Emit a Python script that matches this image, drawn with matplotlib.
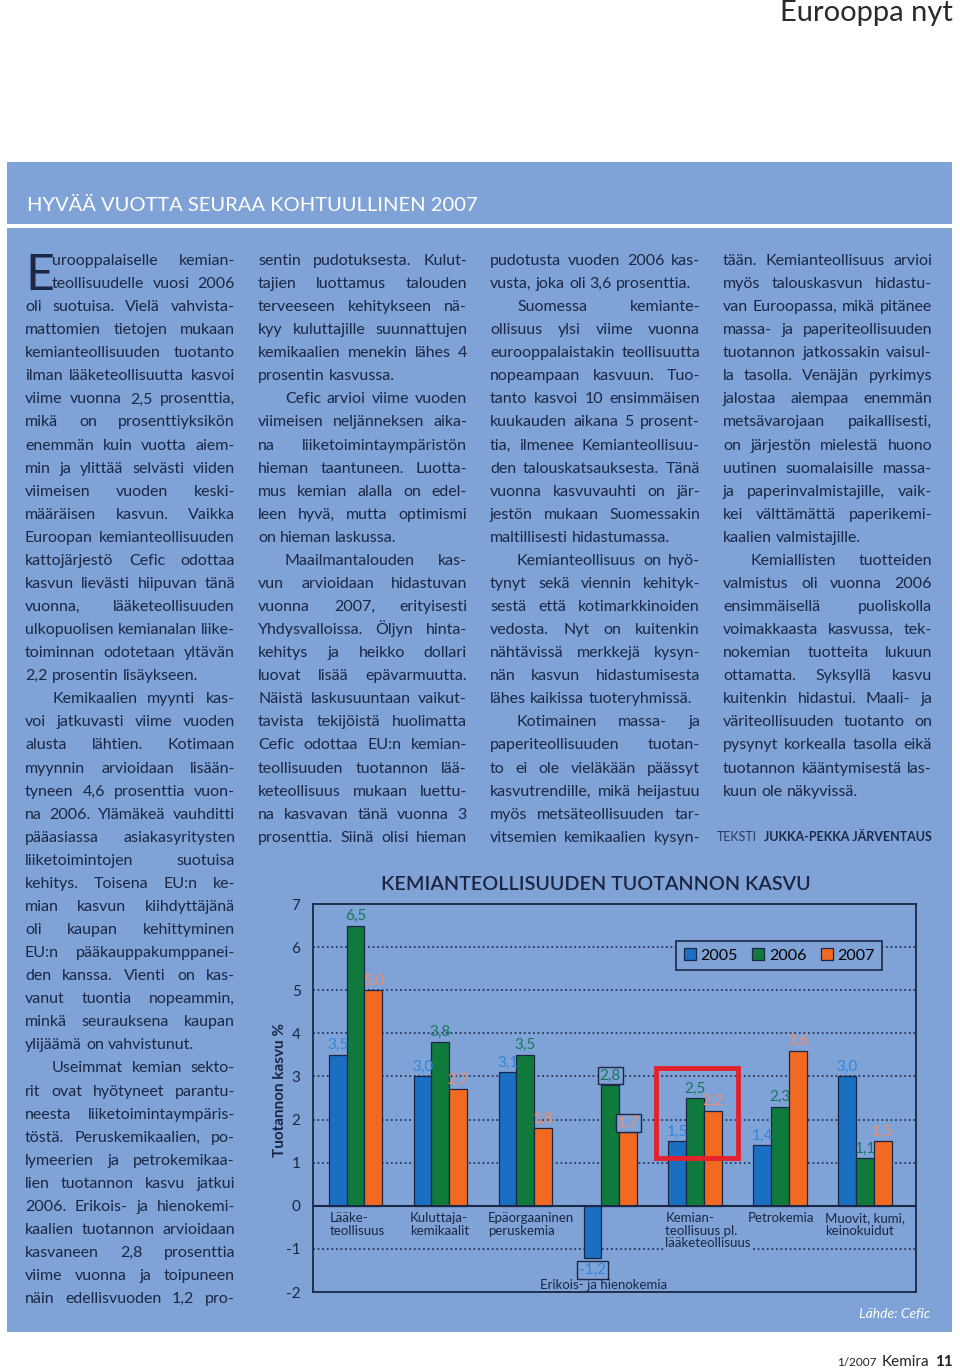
import matplotlib
matplotlib.use("Agg")
import matplotlib.pyplot as plt
from matplotlib.patches import Rectangle
import numpy as np

# chart data
categories = ["Lääke-\nteollisuus", "Kuluttaja-\nkemikaalit", "Epäorgaaninen\nperuskemia",
              "Erikois- ja hienokemia", "Kemian-\nteollisuus pl.\nlääketeollisuus",
              "Petrokemia", "Muovit, kumi,\nkeinokuidut"]
years = ["2005", "2006", "2007"]
kasvu_2005 = [3.5, 3.0, 3.1, -1.2, 1.5, 1.4, 3.0]
kasvu_2006 = [6.5, 3.8, 3.5, 2.8, 2.5, 2.3, 1.1]
kasvu_2007 = [5.0, 2.7, 1.8, 1.7, 2.2, 3.6, 1.5]
y_ticks = list(range(-2, 8))
chart_title = "KEMIANTEOLLISUUDEN TUOTANNON KASVU"
y_label = "Tuotannon kasvu %"
source = "Lähde: Cefic"
highlight = 4  # Kemianteollisuus pl. lääketeollisuus

# page text, columns -> paragraphs -> lines
col1 = [
    ["urooppalaiselle kemian-", "teollisuudelle vuosi 2006", "oli suotuisa. Vielä vahvista-",
     "mattomien tietojen mukaan", "kemianteollisuuden tuotanto", "ilman lääketeollisuutta kasvoi",
     "viime vuonna 2,5 prosenttia,", "mikä on prosenttiyksikön", "enemmän kuin vuotta aiem-",
     "min ja ylittää selvästi viiden", "viimeisen vuoden keski-", "määräisen kasvun. Vaikka",
     "Euroopan kemianteollisuuden", "kattojärjestö Cefic odottaa", "kasvun lievästi hiipuvan tänä",
     "vuonna, lääketeollisuuden", "ulkopuolisen kemianalan liike-", "toiminnan odotetaan yltävän",
     "2,2 prosentin lisäykseen."],
    ["Kemikaalien myynti kas-", "voi jatkuvasti viime vuoden", "alusta lähtien. Kotimaan",
     "myynnin arvioidaan lisään-", "tyneen 4,6 prosenttia vuon-", "na 2006. Ylämäkeä vauhditti",
     "pääasiassa asiakasyritysten", "liiketoimintojen suotuisa", "kehitys. Toisena EU:n ke-",
     "mian kasvun kiihdyttäjänä", "oli kaupan kehittyminen", "EU:n pääkauppakumppanei-",
     "den kanssa. Vienti on kas-", "vanut tuontia nopeammin,", "minkä seurauksena kaupan",
     "ylijäämä on vahvistunut."],
    ["Useimmat kemian sekto-", "rit ovat hyötyneet parantu-", "neesta liiketoimintaympäris-",
     "töstä. Peruskemikaalien, po-", "lymeerien ja petrokemikaa-", "lien tuotannon kasvu jatkui",
     "2006. Erikois- ja hienokemi-", "kaalien tuotannon arvioidaan", "kasvaneen 2,8 prosenttia",
     "viime vuonna ja toipuneen", "näin edellisvuoden 1,2 pro-"],
]
col2 = [
    ["sentin pudotuksesta. Kulut-", "tajien luottamus talouden", "terveeseen kehitykseen nä-",
     "kyy kuluttajille suunnattujen", "kemikaalien menekin lähes 4", "prosentin kasvussa."],
    ["Cefic arvioi viime vuoden", "viimeisen neljänneksen aika-", "na liiketoimintaympäristön",
     "hieman taantuneen. Luotta-", "mus kemian alalla on edel-", "leen hyvä, mutta optimismi",
     "on hieman laskussa."],
    ["Maailmantalouden kas-", "vun arvioidaan hidastuvan", "vuonna 2007, erityisesti",
     "Yhdysvalloissa. Öljyn hinta-", "kehitys ja heikko dollari", "luovat lisää epävarmuutta.",
     "Näistä laskusuuntaan vaikut-", "tavista tekijöistä huolimatta", "Cefic odottaa EU:n kemian-",
     "teollisuuden tuotannon lää-", "keteollisuus mukaan luettu-", "na kasvavan tänä vuonna 3",
     "prosenttia. Siinä olisi hieman"],
]
col3 = [
    ["pudotusta vuoden 2006 kas-", "vusta, joka oli 3,6 prosenttia."],
    ["Suomessa kemiante-", "ollisuus ylsi viime vuonna", "eurooppalaistakin teollisuutta",
     "nopeampaan kasvuun. Tuo-", "tanto kasvoi 10 ensimmäisen", "kuukauden aikana 5 prosent-",
     "tia, ilmenee Kemianteollisuu-", "den talouskatsauksesta. Tänä", "vuonna kasvuvauhti on jär-",
     "jestön mukaan Suomessakin", "maltillisesti hidastumassa."],
    ["Kemianteollisuus on hyö-", "tynyt sekä viennin kehityk-", "sestä että kotimarkkinoiden",
     "vedosta. Nyt on kuitenkin", "nähtävissä merkkejä kysyn-", "nän kasvun hidastumisesta",
     "lähes kaikissa tuoteryhmissä."],
    ["Kotimainen massa- ja", "paperiteollisuuden tuotan-", "to ei ole vieläkään päässyt",
     "kasvutrendille, mikä heijastuu", "myös metsäteollisuuden tar-", "vitsemien kemikaalien kysyn-"],
]
col4 = [
    ["tään. Kemianteollisuus arvioi", "myös talouskasvun hidastu-", "van Euroopassa, mikä pitänee",
     "massa- ja paperiteollisuuden", "tuotannon jatkossakin vaisul-", "la tasolla. Venäjän pyrkimys",
     "jalostaa aiempaa enemmän", "metsävarojaan paikallisesti,", "on järjestön mielestä huono",
     "uutinen suomalaisille massa-", "ja paperinvalmistajille, vaik-", "kei välttämättä paperikemi-",
     "kaalien valmistajille."],
    ["Kemiallisten tuotteiden", "valmistus oli vuonna 2006", "ensimmäisellä puoliskolla",
     "voimakkaasta kasvussa, tek-", "nokemian tuotteita lukuun", "ottamatta. Syksyllä kasvu",
     "kuitenkin hidastui. Maali- ja", "väriteollisuuden tuotanto on", "pysynyt korkealla tasolla eikä",
     "tuotannon kääntymisestä las-", "kuun ole näkyvissä."],
]

PANEL = "#7fa3d6"
NAVY = "#1b2744"
BAR_COLORS = ["#1a6fc2", "#0f7a3c", "#f26a22"]
LABEL_COLORS = ["#2f86de", "#17775c", "#f38a6c"]

plt.rcParams["font.family"] = ["Lato", "DejaVu Sans"]

fig = plt.figure(figsize=(9.6, 13.72), dpi=100)
page = fig.add_axes([0, 0, 1, 1])
page.set_xlim(0, 960)
page.set_ylim(1372, 0)
page.axis("off")
renderer = fig.canvas.get_renderer()

# blue panels
page.add_patch(Rectangle((7, 162), 945, 62, fc=PANEL, ec="none"))
page.add_patch(Rectangle((7, 228), 945, 1104, fc=PANEL, ec="none"))

page.text(953, 21, "Eurooppa nyt", ha="right", va="baseline", fontsize=21, color="#2a2a2a")
page.text(27, 205, "HYVÄÄ VUOTTA SEURAA KOHTUULLINEN 2007", ha="left", va="center",
          fontsize=14.5, color="white")

# body text, justified
line0 = 261
step = 23.07
indent = 27
items = []
columns = [(25, 235, col1, False, True, True), (258, 467, col2, True, True, False),
           (490, 700, col3, True, True, False), (723, 932, col4, True, False, False)]
for x0, x1, paras, cont_in, cont_out, dropcap in columns:
    k = 0
    for pi, para in enumerate(paras):
        for li, line in enumerate(para):
            left = x0
            if dropcap and pi == 0 and li < 2:
                left = x0 + 27
            elif li == 0 and not (pi == 0 and cont_in):
                left = x0 + indent
            last = li == len(para) - 1 and not (pi == len(paras) - 1 and cont_out)
            items.append((left, x1, line0 + k * step + 4, line, not last))
            k += 1

fs = 12.2
ratios = []
for left, right, y, line, just in items:
    t = page.text(0, 0, line, fontsize=fs)
    ratios.append(t.get_window_extent(renderer).width / (right - left))
    t.remove()
r = np.percentile(ratios, 93)
if r > 0.98:
    fs = fs * 0.98 / r

sp = page.text(0, 0, "a a", fontsize=fs)
sp2 = page.text(0, 0, "aa", fontsize=fs)
space_w = sp.get_window_extent(renderer).width - sp2.get_window_extent(renderer).width
sp.remove()
sp2.remove()

for left, right, y, line, just in items:
    words = line.split()
    ts = [page.text(0, y, w, fontsize=fs, color=NAVY, va="baseline") for w in words]
    ws = [t.get_window_extent(renderer).width for t in ts]
    gap = space_w
    if just and len(words) > 1:
        gap = max((right - left - sum(ws)) / (len(words) - 1), 2.5)
    x = left
    for t, w in zip(ts, ws):
        t.set_x(x)
        x += w + gap

page.text(25, 290, "E", fontsize=36, color=NAVY, va="baseline")
page.text(717, 837, "TEKSTI", fontsize=9, color="#2b3a66", va="center")
page.text(932, 837, "JUKKA-PEKKA JÄRVENTAUS", fontsize=9, weight="bold", color=NAVY,
          ha="right", va="center")

# chart
page.text(596, 884, chart_title, ha="center", va="center", fontsize=14.2, weight="semibold", color="#1d2440")
page.text(280, 1090, y_label, rotation=90, ha="center", va="center", fontsize=11, weight="bold", color=NAVY)

ax = fig.add_axes([313 / 960, (1372 - 1292) / 1372, 603 / 960, 388 / 1372])
ax.set_facecolor("none")
x = np.arange(len(categories))
w = 0.21
series = [kasvu_2005, kasvu_2006, kasvu_2007]
for j, (vals, year) in enumerate(zip(series, years)):
    bars = ax.bar(x + (j - 1) * w, vals, w, color=BAR_COLORS[j], edgecolor=NAVY, lw=0.9,
                  label=year, zorder=3)
    for i, (b, v) in enumerate(zip(bars, vals)):
        bx = b.get_x() + b.get_width() / 2
        txt = f"{v:.1f}".replace(".", ",")
        box = None
        if i == 3:
            box = dict(boxstyle="square,pad=0.12", fc=PANEL, ec=NAVY, lw=1)
        if v >= 0:
            ax.text(bx, v + 0.06, txt, ha="center", va="bottom", fontsize=11,
                    color=LABEL_COLORS[j], bbox=box, zorder=5)
        else:
            ax.text(bx, v - 0.12, txt, ha="center", va="top", fontsize=11,
                    color=LABEL_COLORS[j], bbox=box, zorder=5)

ax.set_xlim(-0.5, 6.6)
ax.set_ylim(-2, 7)
ax.set_yticks(y_ticks)
ax.set_yticklabels([str(t) for t in y_ticks])
ax.set_xticks([])
ax.tick_params(axis="y", length=0, pad=9, labelsize=11, labelcolor=NAVY)
for t in y_ticks[1:-1]:
    if t != 0:
        ax.axhline(t, color=NAVY, ls=(0, (1.2, 1.8)), lw=1.1, zorder=1)
ax.axhline(0, color=NAVY, lw=1.5, zorder=4)
for s in ax.spines.values():
    s.set_color(NAVY)
    s.set_linewidth(1.3)

cat_dx = [-0.30, -0.36, -0.44, -0.83, -0.35, -0.38, -0.47]
for i, (c, dx) in enumerate(zip(categories, cat_dx)):
    if i == 3:
        ax.text(i + dx, -1.84, c, ha="left", va="center", fontsize=9.5, color=NAVY, zorder=5)
    else:
        ax.text(i + dx, -0.15, c, ha="left", va="top", fontsize=9.5, color=NAVY, linespacing=1.05,
                bbox=dict(boxstyle="square,pad=0.05", fc=PANEL, ec="none"), zorder=2)

hv = [s[highlight] for s in series]
ax.add_patch(Rectangle((highlight - 0.46, min(hv) - 0.4), 0.97, max(hv) - min(hv) + 1.1,
                       fc="none", ec="#e3222b", lw=3.5, zorder=6))

leg = ax.legend(loc="upper right", bbox_to_anchor=(0.957, 0.925), ncol=3, fontsize=11.5,
                handlelength=0.75, handleheight=0.75, handletextpad=0.3, columnspacing=0.9,
                borderpad=0.45, fancybox=False, framealpha=1)
leg.get_frame().set_facecolor(PANEL)
leg.get_frame().set_edgecolor(NAVY)
leg.get_frame().set_linewidth(1.2)
leg.set_zorder(7)

page.text(930, 1314, source, ha="right", va="center", fontsize=10, style="italic", color="white")

# footer
page.text(953, 1362, "11", ha="right", va="center", fontsize=11, weight="bold", color="#222222")
page.text(929, 1362, "Kemira", ha="right", va="center", fontsize=11, color="#222222")
page.text(877, 1363, "1/2007", ha="right", va="center", fontsize=8.5, color="#222222")

fig.savefig("out.png", dpi=100)
